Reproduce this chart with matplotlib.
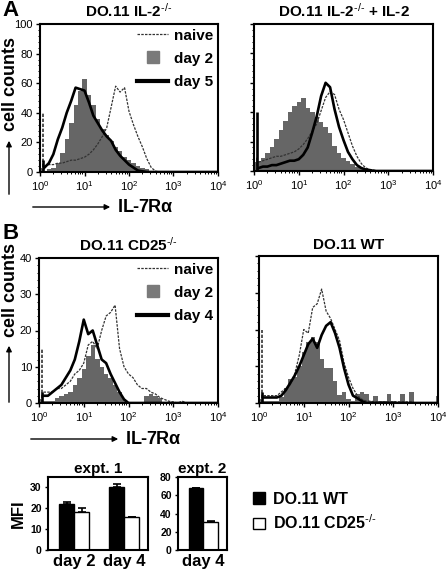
import numpy as np
import matplotlib
matplotlib.use('Agg')
import matplotlib.pyplot as plt
from matplotlib.lines import Line2D
from matplotlib.patches import Patch, FancyArrowPatch
from matplotlib.ticker import AutoMinorLocator, LogLocator, NullFormatter

plt.rcParams['font.family'] = ['Liberation Sans', 'DejaVu Sans']
plt.rcParams['mathtext.fontset'] = 'custom'
plt.rcParams['mathtext.rm'] = 'Liberation Sans'
plt.rcParams['mathtext.bf'] = 'Liberation Sans:bold'
plt.rcParams['mathtext.it'] = 'Liberation Sans:italic'
plt.rcParams['mathtext.default'] = 'regular'

# histogram bins, 0.1 decade apart from 10^0 to 10^4
decades = np.arange(41) / 10
channels = 10 ** decades

# A: DO.11 IL-2-/-
naive_a1 = [40, 4, 5, 5, 6, 6, 7, 8, 8, 9,
            10, 12, 15, 19, 24, 30, 44, 58, 54, 57,
            41, 32, 24, 17, 9, 3, 0.5, 0, 0, 0,
            0, 0, 0, 0, 0, 0, 0, 0, 0, 0, 0]
day2_a1 = [3, 1, 2, 3, 6, 13, 22, 33, 45, 55,
           63, 52, 45, 36, 29, 25, 21, 17, 14, 10,
           8, 6, 4, 3, 2, 1, 0.5, 0, 0, 0,
           0, 0, 0, 0, 0, 0, 0, 0, 0, 0, 0]
day5_a1 = [8, 3, 6, 12, 22, 30, 40, 48, 57, 56,
           55, 47, 38, 33, 28, 24, 21, 15, 11, 8,
           5, 3, 1, 0.5, 0, 0, 0, 0, 0, 0,
           0, 0, 0, 0, 0, 0, 0, 0, 0, 0, 0]

# A: DO.11 IL-2-/- + IL-2
naive_a2 = [10, 6, 7, 8, 9, 10, 10, 11, 12, 13,
            15, 18, 22, 27, 32, 41, 50, 54, 52, 42,
            35, 26, 17, 10, 5, 2, 1, 0.5, 0, 0,
            0, 0, 0, 0, 0, 0, 0, 0, 0, 0, 0]
day2_a2 = [6, 7, 9, 12, 16, 22, 28, 34, 40, 44,
           47, 50, 43, 40, 37, 33, 30, 26, 17, 12,
           9, 7, 5, 3, 2, 1, 0.5, 0, 0, 0,
           0, 0, 0, 0, 0, 0, 0, 0, 0, 0, 0]
day5_a2 = [40, 2, 3, 3, 4, 4, 5, 6, 7, 7,
           8, 11, 16, 26, 37, 51, 60, 57, 42, 30,
           21, 13, 8, 4, 2, 1, 0.5, 0, 0, 0,
           0, 0, 0, 0, 0, 0, 0, 0, 0, 0, 0]

# B: DO.11 CD25-/-
naive_b1 = [15, 3, 3, 3, 4, 4, 5, 6, 8, 9,
            11, 16, 17, 15, 20, 24, 25, 27, 15, 10,
            8, 7, 5, 4, 4, 3, 2.5, 1.5, 1, 0.5,
            0.3, 0, 0.5, 0, 0, 0, 0, 0, 0, 0, 0]
day2_b1 = [1, 0.5, 0.5, 0.5, 1.5, 2, 2.5, 3, 5, 7,
           9.5, 13, 16, 12, 10, 8, 7, 5, 3, 1,
           0, 0, 0, 0, 2, 2.5, 2, 1.5, 0, 0,
           0, 0, 0, 0, 0, 0, 0, 0, 0, 0, 0]
day4_b1 = [3, 2, 2, 3, 4, 5, 7, 9, 12, 17,
           23, 19, 20, 16, 12, 11, 8, 5.5, 3, 1,
           0, 0, 0, 0, 0, 0, 0, 0, 0, 0,
           0, 0, 0, 0, 0, 0, 0, 0, 0, 0, 0]

# B: DO.11 WT
naive_b2 = [20, 2, 2, 2, 2, 3, 4, 5, 8, 13,
            20, 19, 26, 27, 31, 25, 23, 20, 17, 11,
            7, 4, 2, 1, 0.5, 0.5, 0.3, 0.3, 0.3, 0.3,
            0.3, 0.3, 0.3, 0.3, 0.3, 0, 0, 0, 0, 0, 0]
day2_b2 = [1, 0.5, 0.5, 0.5, 0.5, 1.5, 4, 6.5, 7, 10,
           14, 16.5, 18, 16.5, 12, 9.5, 9.5, 6, 2.2, 3,
           1, 0.5, 2.5, 3, 2.5, 0.5, 2, 0.5, 0.5, 2.5,
           0.5, 0.3, 2.5, 0.3, 3, 0.3, 0.3, 0.3, 0.3, 0.3, 2]
day4_b2 = [3, 1.5, 1.5, 1.5, 1.5, 2, 3.5, 5.5, 7.5, 10,
           13, 16, 17.5, 15, 18.5, 21, 22, 19, 15, 9.5,
           5, 2, 1.3, 0.5, 0, 0, 0, 0, 0, 0,
           0, 0, 0, 0, 0, 0, 0, 0, 0, 0, 0]

# MFI bars
days_e1 = ['day 2', 'day 4']
wt_e1 = [22.0, 30.4]
wt_e1_err = [1.2, 1.2]
ko_e1 = [18.4, 15.7]
ko_e1_err = [1.6, 0.2]
days_e2 = ['day 4']
wt_e2 = [67.5]
wt_e2_err = [0.8]
ko_e2 = [30.8]
ko_e2_err = [0.7]

GRAY = '#666666'
KO = r'$^{\mathbf{\text{-/-}}}$'
W, H = 446, 573


def box(x0, y0, x1, y1):
    return [x0 / W, 1 - y1 / H, (x1 - x0) / W, (y1 - y0) / H]


def fpos(x, y):
    return (x / W, 1 - y / H)


fig = plt.figure(figsize=(W / 100, H / 100), dpi=100)


def trace(ax, counts, zorder, **kw):
    # first channel is the pile-up at the lower edge: draw it as a spike
    ax.plot(channels[1:], counts[1:], zorder=zorder, **kw)
    ax.vlines(channels[0] * 1.15, 0, counts[0], colors=kw['color'],
              lw=max(kw['lw'], 1.2), linestyles=kw.get('ls', 'solid'), zorder=zorder)


def histo(rect, naive, day2, later, ymax, ystep, title, show_y, legend_later=None):
    ax = fig.add_axes(rect)
    ax.fill_between(channels, day2, step='mid', color=GRAY, lw=0, zorder=1)
    trace(ax, naive, 2, color='#333333', lw=0.9, ls=(0, (2, 1)))
    trace(ax, later, 3, color='k', lw=1.9)
    ax.set_xscale('log')
    ax.set_xlim(1, 1e4)
    ax.set_ylim(0, ymax)
    ax.set_yticks(np.arange(0, ymax + 1, ystep))
    ax.yaxis.set_minor_locator(AutoMinorLocator(5))
    ax.xaxis.set_major_locator(LogLocator(base=10, numticks=10))
    ax.xaxis.set_minor_locator(LogLocator(base=10, subs=np.arange(2, 10), numticks=10))
    ax.xaxis.set_minor_formatter(NullFormatter())
    ax.tick_params(which='major', direction='out', length=3, width=1, labelsize=8, pad=2)
    ax.tick_params(which='minor', direction='out', length=1.5, width=0.7)
    if not show_y:
        ax.set_yticklabels([])
    for s in ax.spines.values():
        s.set_linewidth(1.5)
    ax.set_title(title, fontsize=11, fontweight='bold', pad=5)
    if legend_later:
        handles = [Line2D([], [], color='#333333', lw=0.9, ls=(0, (2, 1))),
                   Line2D([], [], marker='s', color='#7a7a7a', ls='none', markersize=9),
                   Line2D([], [], color='k', lw=3)]
        ax.legend(handles, ['naive', 'day 2', legend_later], loc='upper right',
                  frameon=False, prop={'weight': 'bold', 'size': 11},
                  handlelength=2.0, handletextpad=0.4, labelspacing=0.6,
                  borderaxespad=0.1, borderpad=0.2)
    return ax


histo(box(40, 24, 218, 172), naive_a1, day2_a1, day5_a1, 100, 20,
      'DO.11 IL-2' + KO, True, 'day 5')
histo(box(254, 24, 433, 171), naive_a2, day2_a2, day5_a2, 100, 20,
      'DO.11 IL-2' + KO + ' + IL-2', False)
histo(box(39, 258, 218, 403), naive_b1, day2_b1, day4_b1, 40, 10,
      'DO.11 CD25' + KO, True, 'day 4')
histo(box(259, 256, 438, 403), naive_b2, day2_b2, day4_b2, 40, 10,
      'DO.11 WT', False)


def mfi(rect, days, wt, wt_err, ko, ko_err, ymax, yticks, title, ylabel=None):
    ax = fig.add_axes(rect)
    x = np.arange(len(days))
    w = 0.3
    ax.bar(x - w / 2, wt, w, color='k', edgecolor='k', lw=1,
           yerr=[[0] * len(wt), wt_err], capsize=3, error_kw={'elinewidth': 1.2, 'capthick': 1.2})
    ax.bar(x + w / 2, ko, w, color='white', edgecolor='k', lw=1,
           yerr=[[0] * len(ko), ko_err], capsize=3, error_kw={'elinewidth': 1.2, 'capthick': 1.2})
    ax.set_xlim(-0.52, len(days) - 0.52)
    ax.set_ylim(0, ymax)
    ax.set_yticks(yticks)
    ax.set_xticks(x)
    ax.set_xticklabels(days, fontsize=12, fontweight='bold')
    ax.tick_params(axis='x', length=0, pad=3)
    ax.tick_params(axis='y', length=2.5, width=1, labelsize=7.5, pad=2)
    for lab in ax.get_yticklabels():
        lab.set_fontweight('bold')
    for s in ax.spines.values():
        s.set_linewidth(1.5)
    ax.set_title(title, fontsize=11, fontweight='bold', pad=3)
    if ylabel:
        ax.set_ylabel(ylabel, fontsize=12, fontweight='bold', labelpad=3)
    return ax


mfi(box(48, 477, 148, 550), days_e1, wt_e1, wt_e1_err, ko_e1, ko_e1_err,
    35, [0, 10, 20, 30], 'expt. 1', 'MFI')
mfi(box(178, 477, 227, 550), days_e2, wt_e2, wt_e2_err, ko_e2, ko_e2_err,
    80, [0, 20, 40, 60, 80], 'expt. 2')

fig.legend([Patch(facecolor='k', edgecolor='k'), Patch(facecolor='white', edgecolor='k')],
           ['DO.11 WT', 'DO.11 CD25' + KO],
           loc='center left', bbox_to_anchor=fpos(239, 512), frameon=False,
           prop={'weight': 'bold', 'size': 11.5}, handlelength=0.7, handleheight=0.7,
           handletextpad=0.5, labelspacing=0.45)

# panel letters
fig.text(*fpos(2, 0), 'A', fontsize=16, fontweight='bold', va='top')
fig.text(*fpos(2, 223), 'B', fontsize=16, fontweight='bold', va='top')


def arrow(p0, p1):
    fig.add_artist(FancyArrowPatch(fpos(*p0), fpos(*p1), transform=fig.transFigure,
                                   arrowstyle='-|>', mutation_scale=8, lw=1, color='k'))


# axis arrows
arrow((30, 207), (113, 207))
fig.text(*fpos(117, 207), r'IL-7R$\alpha$', fontsize=13, fontweight='bold', va='center')
arrow((28, 439), (121, 439))
fig.text(*fpos(125, 439), r'IL-7R$\alpha$', fontsize=13, fontweight='bold', va='center')

arrow((9, 197), (9, 138))
fig.text(*fpos(11, 84), 'cell counts', fontsize=13, fontweight='bold',
         rotation=90, ha='center', va='center')
arrow((9, 405), (9, 343))
fig.text(*fpos(11, 290), 'cell counts', fontsize=13, fontweight='bold',
         rotation=90, ha='center', va='center')

fig.savefig('out.png', dpi=100)
